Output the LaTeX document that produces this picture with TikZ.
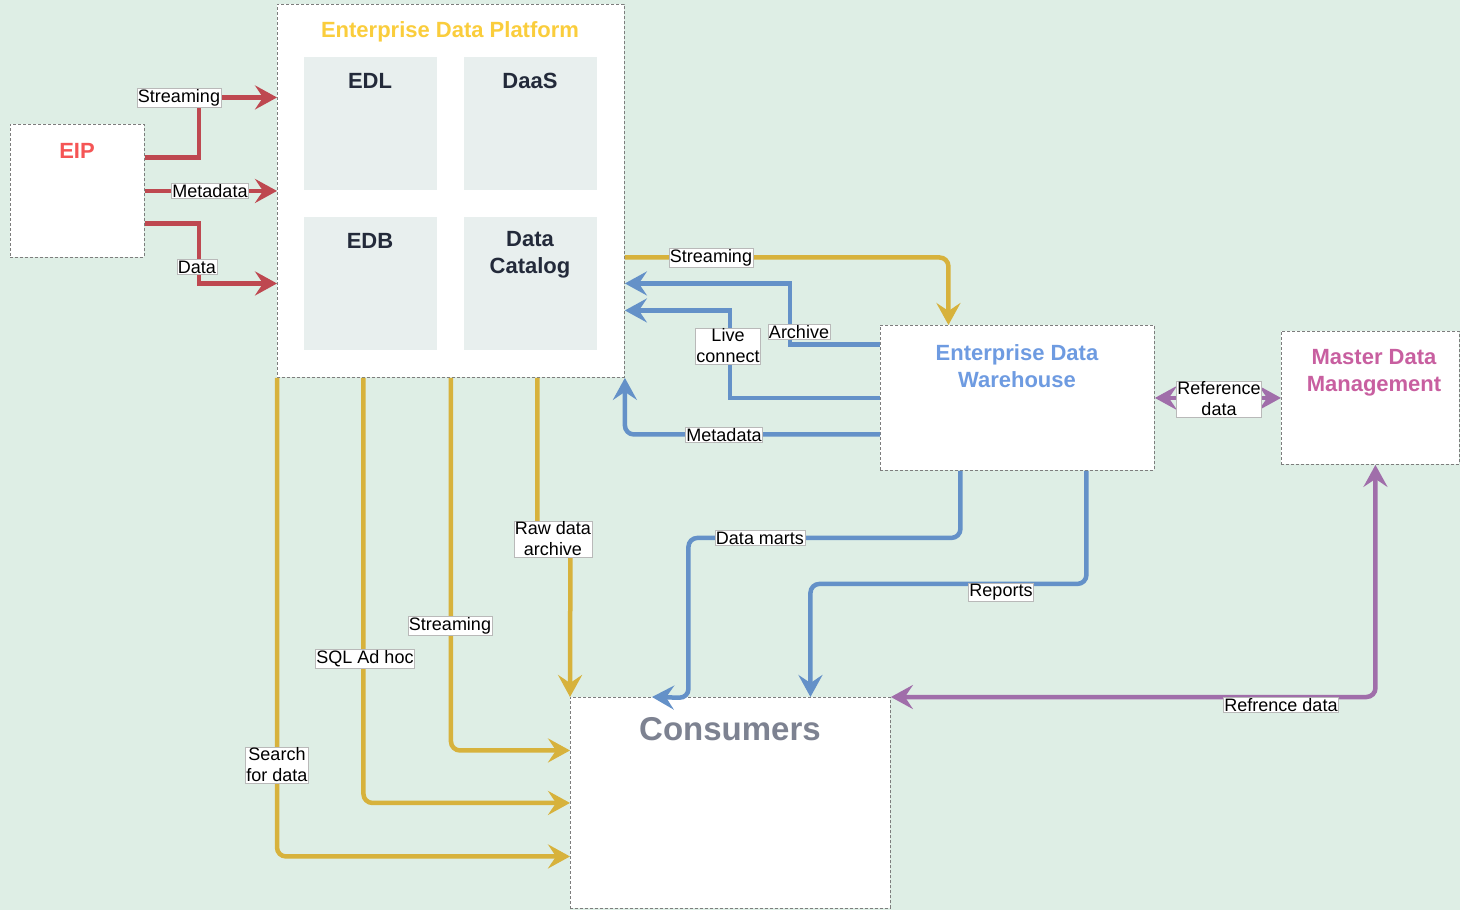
\documentclass[tikz,border=0pt]{standalone}
\usepackage{fontspec}
\setmainfont{Liberation Sans}
\usetikzlibrary{arrows.meta,calc}
\definecolor{bg}{RGB}{222,238,229}
\definecolor{bordergray}{RGB}{125,125,125}
\definecolor{innerfill}{RGB}{232,239,238}
\definecolor{innertext}{RGB}{35,42,58}
\definecolor{redc}{RGB}{190,72,80}
\definecolor{yelc}{RGB}{215,178,60}
\definecolor{bluc}{RGB}{100,145,200}
\definecolor{purc}{RGB}{160,110,170}
\definecolor{eiptitle}{RGB}{245,85,85}
\definecolor{edptitle}{RGB}{250,205,60}
\definecolor{edwtitle}{RGB}{110,155,225}
\definecolor{mdmtitle}{RGB}{200,95,160}
\definecolor{contitle}{RGB}{125,130,145}
\begin{document}
\begin{tikzpicture}[x=1pt,y=-1pt,
  >={Stealth[length=22pt,width=24pt,inset=8pt]},
  box/.style={draw=bordergray, dash pattern=on 3pt off 2pt, line width=0.9pt, fill=white, anchor=north west, inner sep=0pt},
  innerbox/.style={fill=innerfill, anchor=north west, inner sep=0pt, minimum width=133pt, minimum height=133pt},
  ttl/.style={font=\bfseries\fontsize{22}{27}\selectfont, align=center, inner sep=0pt},
  intl/.style={font=\bfseries\fontsize{22}{27}\selectfont, align=center, inner sep=0pt, text=innertext},
  lbl/.style={fill=white, draw=gray!55, line width=0.6pt, inner sep=1pt, font=\fontsize{18}{21}\selectfont, align=center, text=black},
  redline/.style={draw=redc, line width=4.5pt, ->},
  yel/.style={draw=yelc, line width=4.5pt, ->, rounded corners=9pt},
  blu/.style={draw=bluc, line width=4.5pt, ->},
  bluR/.style={draw=bluc, line width=4.5pt, ->, rounded corners=9pt},
  pur/.style={draw=purc, line width=4.5pt, <->, rounded corners=9pt}
]
\useasboundingbox[fill=bg] (0,0) rectangle (1460,910);

% boxes
\node[box, minimum width=134pt, minimum height=133pt] (eip) at (10,124) {};
\node[box, minimum width=347pt, minimum height=373pt] (edp) at (277,4) {};
\node[box, minimum width=274pt, minimum height=145pt] (edw) at (880,325) {};
\node[box, minimum width=178pt, minimum height=133pt] (mdm) at (1281,331) {};
\node[box, minimum width=320pt, minimum height=211pt] (consumers) at (570,697) {};

\node[innerbox] (edl) at (304,57) {};
\node[innerbox] (daas) at (464,57) {};
\node[innerbox] (edb) at (304,217) {};
\node[innerbox] (catalog) at (464,217) {};

% titles
\node[ttl, text=eiptitle] (eipT) at (77,150.5) {EIP};
\node[ttl, text=edptitle] (edpT) at (450,31.5) {Enterprise Data Platform};
\node[intl] (edlT) at (370,80.5) {EDL};
\node[intl] (daasT) at (530,80.5) {DaaS};
\node[intl] (edbT) at (370,240.5) {EDB};
\node[intl] (catT) at (530,254.5) {Data\\Catalog};
\node[ttl, text=edwtitle] (edwT) at (1017,366) {Enterprise Data\\Warehouse};
\node[ttl, text=mdmtitle] (mdmT) at (1374,372.5) {Master Data\\Management};
\node[ttl, text=contitle, font=\bfseries\fontsize{33}{38}\selectfont] (conT) at (730,729) {Consumers};

% red connectors
\draw[redline] ([yshift=33.5pt]eip.east) -- ++(54,0) |- ([yshift=93.5pt]edp.west);
\draw[redline] (eip.east) -- (edp.west);
\draw[redline] ([yshift=-32.5pt]eip.east) -- ++(54,0) |- ([yshift=-92.5pt]edp.west);

% yellow connectors
\draw[yel] ([yshift=-66.5pt]edp.east) -| ([xshift=-69pt]edw.north);
\draw[yel] ([xshift=86.5pt]edp.south) -- ++(0,161) -- ++(33,0) -- (consumers.north west);
\draw[yel] (edp.south) |- ([yshift=52.5pt]consumers.west);
\draw[yel] ([xshift=-87.5pt]edp.south) |- (consumers.west);
\draw[yel] (edp.south west) |- ([yshift=-53.5pt]consumers.west);

% blue connectors
\draw[blu] ([yshift=53.5pt]edw.west) -- ++(-90,0) |- ([yshift=-92.5pt]edp.east);
\draw[blu] (edw.west) -- ++(-150,0) |- ([yshift=-119.5pt]edp.east);
\draw[bluR] ([yshift=-36.5pt]edw.west) -| (edp.south east);
\draw[bluR] ([xshift=-57pt]edw.south) -- ++(0,67) -- ++(-272,0) -- ++(0,160) -- ([xshift=82pt]consumers.north west);
\draw[bluR] ([xshift=69pt]edw.south) -- ++(0,113) -| ([xshift=80pt]consumers.north);

% purple connectors
\draw[pur] (edw.east) -- (mdm.west);
\draw[pur] (consumers.north east) -| ([xshift=5pt]mdm.south);

% labels
\node[lbl] (l1) at (179,98) {Streaming};
\node[lbl] (l2) at (210,191) {Metadata};
\node[lbl] (l3) at (197,267) {Data};
\node[lbl] (l4) at (711,258) {Streaming};
\node[lbl] (l5) at (799,332) {Archive};
\node[lbl] (l6) at (728,346) {Live\\connect};
\node[lbl] (l7) at (724,435) {Metadata};
\node[lbl] (l8) at (1219,399) {Reference\\data};
\node[lbl] (l9) at (553,539) {Raw data\\archive};
\node[lbl] (l10) at (760,538) {Data marts};
\node[lbl] (l11) at (1001,592) {Reports};
\node[lbl] (l12) at (450,626) {Streaming};
\node[lbl] (l13) at (365,659) {SQL Ad hoc};
\node[lbl] (l14) at (277,765) {Search\\for data};
\node[lbl] (l15) at (1281,705) {Refrence data};
\end{tikzpicture}
\end{document}
